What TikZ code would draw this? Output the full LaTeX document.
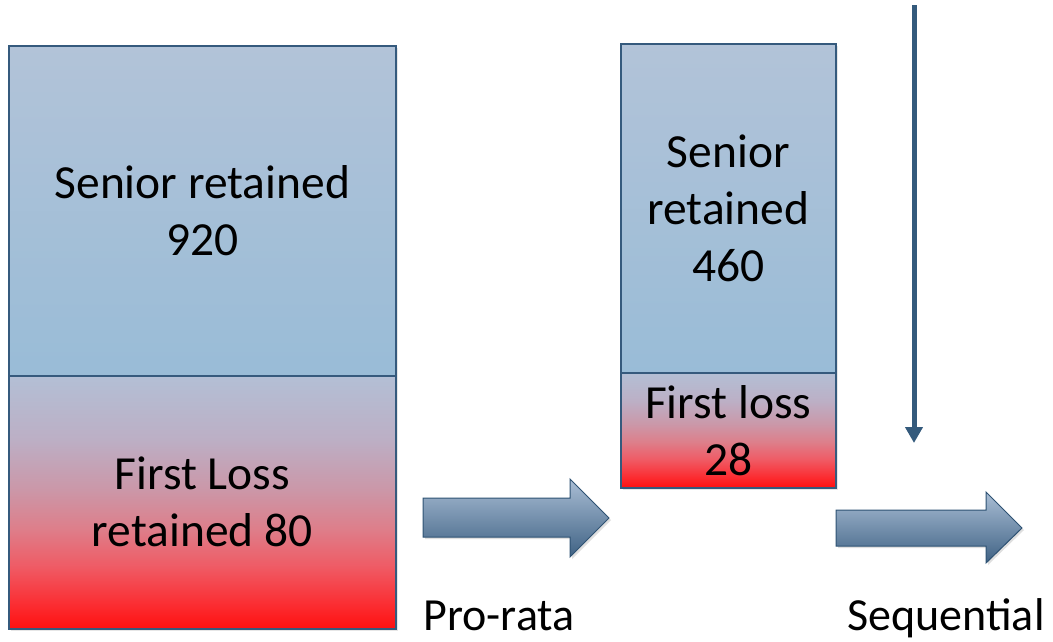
\documentclass[tikz,border=0pt]{standalone}
\usepackage{fontspec}
\setmainfont{Carlito}
\usetikzlibrary{arrows.meta,shadows}
\definecolor{bordc}{HTML}{355A7D}
\definecolor{blueT}{HTML}{B2C3D8}
\definecolor{blueB}{HTML}{99BCD7}
\definecolor{arrT}{HTML}{AABED5}
\definecolor{arrB}{HTML}{3F6284}
\definecolor{arrD}{HTML}{2E5273}
\definecolor{vline}{HTML}{345A7C}
\pgfdeclareverticalshading{redfade}{100bp}{%
  color(0bp)=(rgb,255:red,255;green,16;blue,16);
  color(25bp)=(rgb,255:red,255;green,16;blue,16);
  color(30bp)=(rgb,255:red,251;green,46;blue,51);
  color(37.5bp)=(rgb,255:red,239;green,92;blue,102);
  color(45bp)=(rgb,255:red,221;green,127;blue,139);
  color(52.5bp)=(rgb,255:red,203;green,151;blue,168);
  color(62.5bp)=(rgb,255:red,188;green,175;blue,197);
  color(75bp)=(rgb,255:red,179;green,191;blue,213);
  color(100bp)=(rgb,255:red,179;green,191;blue,213)}
\tikzset{
  box/.style={draw=bordc, line width=1.6pt, anchor=north west, inner sep=0pt,
    align=center, font=\fontsize{47.5}{57}\selectfont,
    drop shadow={opacity=0.2, shadow xshift=2pt, shadow yshift=-2pt}},
  seniorbox/.style={box, top color=blueT, bottom color=blueB},
  lossbox/.style={box, shading=redfade},
  blockarrow/.style={draw=arrD, line width=1pt, top color=arrT, bottom color=arrB,
    drop shadow={opacity=0.25, shadow xshift=2pt, shadow yshift=-2pt}},
  lbl/.style={font=\fontsize{46}{57}\selectfont, anchor=base},
}
\begin{document}
\begin{tikzpicture}[x=1pt,y=-1pt]
\useasboundingbox (0,0) rectangle (1053,641);
% left stack
\node[seniorbox, minimum width=387pt, minimum height=330pt] (snr1) at (8,45) {Senior retained\\920};
\node[lossbox, minimum width=387pt, minimum height=253pt] (fl1) at (8,375) {First Loss\\retained 80};
% middle stack
\node[seniorbox, minimum width=215pt, minimum height=329pt] (snr2) at (620,43) {Senior\\retained\\460};
\node[lossbox, minimum width=215pt, minimum height=115pt] (fl2) at (620,372) {First loss\\28};
% block arrows
\path[blockarrow] (423,498) -- (570,498) -- (570,479) -- (609,518) -- (570,557) -- (570,537) -- (423,537) -- cycle;
\path[blockarrow] (836,510) -- (986,510) -- (986,492) -- (1022,528) -- (986,563) -- (986,546) -- (836,546) -- cycle;
% vertical arrow
\coordinate (vtop) at (914,5);
\coordinate (vbot) at (914,443);
\draw[vline, line width=5pt, -{Triangle[length=16pt,width=17pt]}] (vtop) -- (vbot);
% labels
\node[lbl] (pr) at (499,630) {Pro-rata};
\node[lbl] (sq) at (946,630) {Sequential};
\end{tikzpicture}
\end{document}
